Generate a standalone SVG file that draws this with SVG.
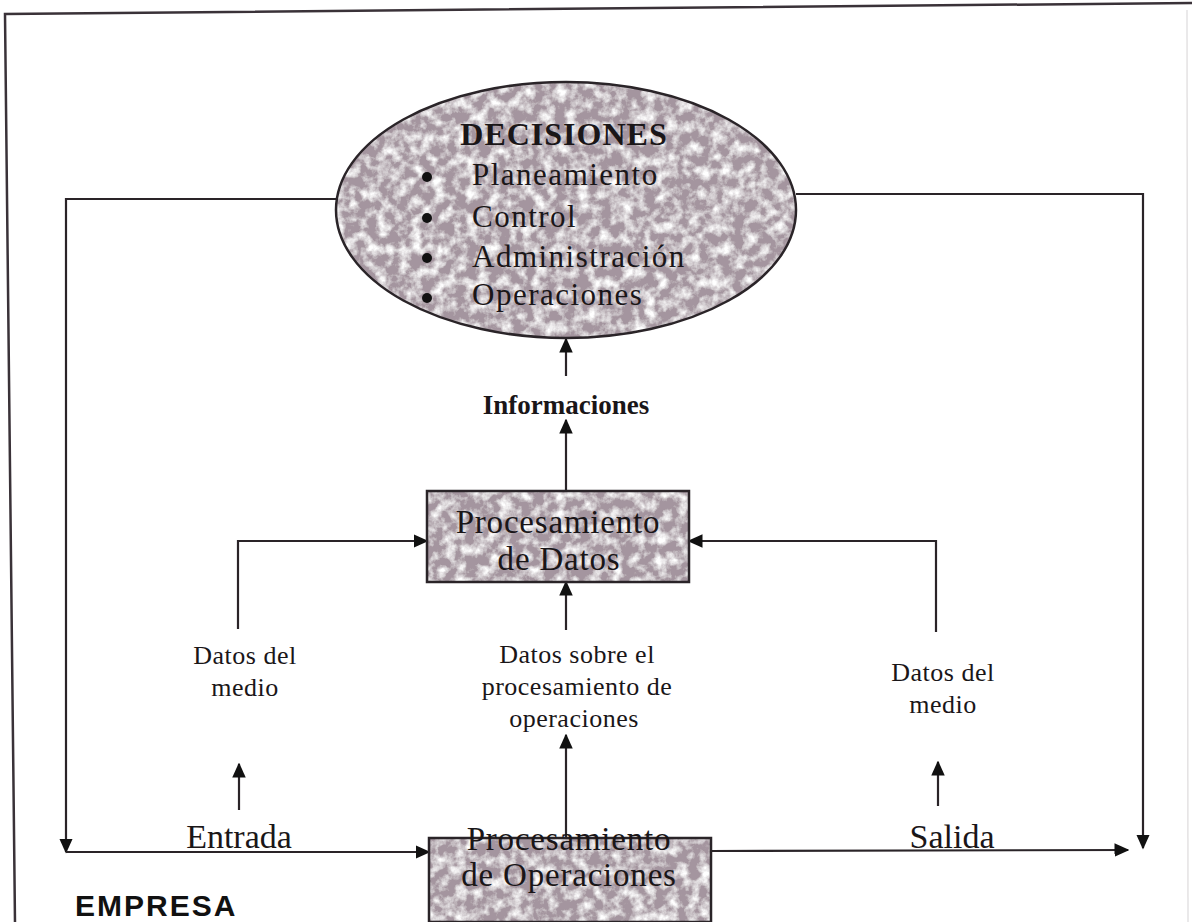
<svg xmlns="http://www.w3.org/2000/svg" width="1192" height="922" viewBox="0 0 1192 922">
  <style>
    .frame { fill: none; stroke: #3a3238; stroke-width: 2.5; }
    .shape { fill: #a4959f; }
    .edge { fill: none; stroke: #2a2428; stroke-width: 2.5; }
    .line { fill: none; stroke: #2a2428; stroke-width: 2.2; }
    .serif { font-family: "Liberation Serif", "Times New Roman", serif; fill: #1a1618; }
    .head { font-weight: bold; font-size: 32px; letter-spacing: 1px; }
    .info { font-weight: bold; font-size: 27px; }
    .item { font-size: 31px; letter-spacing: 1.5px; }
    .box { font-size: 33px; letter-spacing: 0.8px; text-anchor: middle; }
    .lbl { font-size: 26px; letter-spacing: 0.5px; text-anchor: middle; }
    .flow { font-size: 34px; text-anchor: middle; }
    .corp { font-family: "Liberation Sans", Arial, sans-serif; font-weight: bold; font-size: 30px; letter-spacing: 2px; fill: #111; }
  </style>
  <defs>
    <marker id="arr" viewBox="0 0 10 10" refX="9" refY="5" markerWidth="15" markerHeight="15" orient="auto" markerUnits="userSpaceOnUse">
      <path d="M0,0.5 L10,5 L0,9.5 z" fill="#111"/>
    </marker>
    <!-- speckled print texture for the shaded shapes -->
    <filter id="grain" x="0" y="0" width="100%" height="100%">
      <feTurbulence type="fractalNoise" baseFrequency="0.09" numOctaves="4" seed="7" result="n"/>
      <feColorMatrix in="n" type="matrix" values="0 0 0 0 1  0 0 0 0 1  0 0 0 0 1  0 0 0 2.4 -0.95" result="w"/>
      <feComposite in="w" in2="SourceGraphic" operator="in" result="wm"/>
      <feMerge><feMergeNode in="SourceGraphic"/><feMergeNode in="wm"/></feMerge>
    </filter>
  </defs>

  <rect width="1192" height="922" fill="#ffffff"/>

  <!-- outer frame of the enterprise -->
  <polyline class="frame" points="15,922 5,14 1192,3"/>
  <line x1="1187" y1="10" x2="1188" y2="922" stroke="#e4e2e3" stroke-width="1.5"/>

  <!-- connectors -->
  <g id="connectors">
    <!-- left feedback: decisions to input -->
    <polyline class="line" points="337,199 66,199 66,852" marker-end="url(#arr)"/>
    <!-- right feedback: decisions to output -->
    <polyline class="line" points="796,194 1143,194 1143,848" marker-end="url(#arr)"/>
    <!-- input flow -->
    <line class="line" x1="66" y1="852" x2="429" y2="852" marker-end="url(#arr)"/>
    <!-- output flow -->
    <line class="line" x1="711" y1="851" x2="1128" y2="850" marker-end="url(#arr)"/>
    <!-- informaciones to decisions -->
    <line class="line" x1="566" y1="376" x2="566" y2="339" marker-end="url(#arr)"/>
    <!-- data processing to informaciones -->
    <line class="line" x1="566" y1="491" x2="566" y2="420" marker-end="url(#arr)"/>
    <!-- environment data (left) to data processing -->
    <polyline class="line" points="238,629 238,541 427,541" marker-end="url(#arr)"/>
    <!-- environment data (right) to data processing -->
    <polyline class="line" points="936,632 936,541 689,541" marker-end="url(#arr)"/>
    <!-- operations data to data processing -->
    <line class="line" x1="566" y1="630" x2="566" y2="582" marker-end="url(#arr)"/>
    <!-- upward arrows from the flows -->
    <line class="line" x1="239" y1="810" x2="239" y2="764" marker-end="url(#arr)"/>
    <line class="line" x1="566" y1="838" x2="566" y2="735" marker-end="url(#arr)"/>
    <line class="line" x1="938" y1="806" x2="938" y2="762" marker-end="url(#arr)"/>
  </g>

  <!-- decisions ellipse -->
  <g id="decisiones">
    <ellipse class="shape" cx="566" cy="210" rx="230" ry="128" filter="url(#grain)"/>
    <ellipse class="edge" cx="566" cy="210" rx="230" ry="128"/>
    <text class="serif head" x="564" y="145" text-anchor="middle">DECISIONES</text>
    <g class="serif item">
      <circle cx="427" cy="177" r="5" fill="#111"/>
      <text x="472" y="185">Planeamiento</text>
      <circle cx="427" cy="218" r="5" fill="#111"/>
      <text x="472" y="227">Control</text>
      <circle cx="427" cy="258" r="5" fill="#111"/>
      <text x="472" y="267">Administración</text>
      <circle cx="427" cy="298" r="5" fill="#111"/>
      <text x="472" y="305">Operaciones</text>
    </g>
  </g>

  <g id="informaciones">
    <text class="serif info" x="566" y="414" text-anchor="middle">Informaciones</text>
  </g>

  <!-- data processing box -->
  <g id="proc-datos">
    <rect class="shape" x="427" y="491" width="262" height="91" filter="url(#grain)"/>
    <rect class="edge" x="427" y="491" width="262" height="91"/>
    <text class="serif box" x="558" y="533">Procesamiento</text>
    <text class="serif box" x="559" y="570">de Datos</text>
  </g>

  <g id="datos-medio-izq">
    <text class="serif lbl" x="245" y="664">Datos del</text>
    <text class="serif lbl" x="245" y="696">medio</text>
  </g>

  <g id="datos-operaciones">
    <text class="serif lbl" x="577" y="663">Datos sobre el</text>
    <text class="serif lbl" x="577" y="695">procesamiento de</text>
    <text class="serif lbl" x="574" y="727">operaciones</text>
  </g>

  <g id="datos-medio-der">
    <text class="serif lbl" x="943" y="681">Datos del</text>
    <text class="serif lbl" x="943" y="713">medio</text>
  </g>

  <g id="entrada">
    <text class="serif flow" x="239" y="848">Entrada</text>
  </g>

  <g id="salida">
    <text class="serif flow" x="952" y="848">Salida</text>
  </g>

  <!-- operations processing box -->
  <g id="proc-operaciones">
    <rect class="shape" x="429" y="838" width="282" height="84" filter="url(#grain)"/>
    <rect class="edge" x="429" y="838" width="282" height="84"/>
    <text class="serif box" x="569" y="850">Procesamiento</text>
    <text class="serif box" x="569" y="886">de Operaciones</text>
  </g>

  <g id="empresa">
    <text class="corp" x="75" y="916">EMPRESA</text>
  </g>
</svg>
